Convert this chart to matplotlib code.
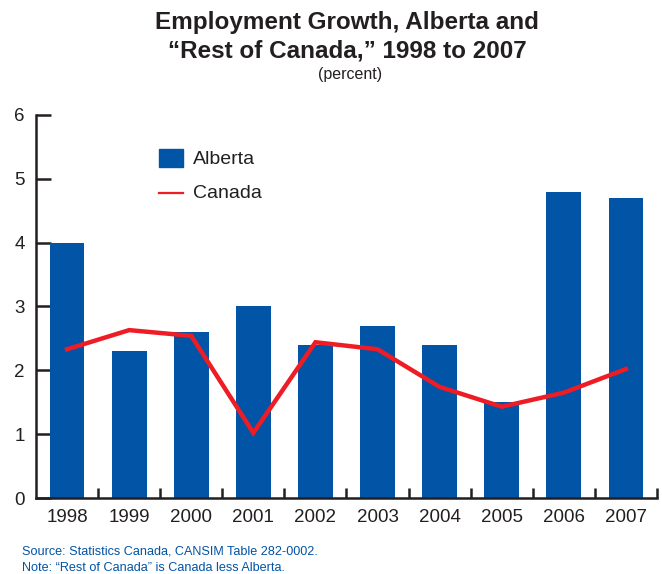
import numpy as np
import matplotlib
matplotlib.use("Agg")
import matplotlib.pyplot as plt
from matplotlib.patches import Rectangle
from matplotlib.lines import Line2D

years = ["1998", "1999", "2000", "2001", "2002", "2003", "2004", "2005", "2006", "2007"]
alberta = [4.0, 2.3, 2.6, 3.0, 2.4, 2.7, 2.4, 1.5, 4.8, 4.7]
canada = [2.33, 2.63, 2.54, 1.02, 2.44, 2.33, 1.74, 1.43, 1.65, 2.02]
y_ticks = [0, 1, 2, 3, 4, 5, 6]

BLUE = "#0254a6"
RED = "#ee1c25"
DARK = "#231f20"
FONT = ["Liberation Sans", "DejaVu Sans"]
plt.rcParams["font.family"] = FONT

fig = plt.figure(figsize=(6.62, 5.74), dpi=100)
ax = fig.add_axes([0.0544, 0.1324, 0.9380, 0.6673])

x = np.arange(len(years))
ax.bar(x, alberta, width=0.56, color=BLUE, zorder=2)
ax.plot(x, canada, color=RED, lw=3.2, zorder=3, solid_joinstyle="miter")

ax.set_xlim(-0.5, len(years) - 0.5)
ax.set_ylim(0, 6)

for s in ["top", "right"]:
    ax.spines[s].set_visible(False)
for s in ["left", "bottom"]:
    ax.spines[s].set_linewidth(1.8)
    ax.spines[s].set_color(DARK)

ax.set_yticks(y_ticks)
ax.tick_params(axis="y", direction="in", length=11, width=1.8, color=DARK,
               labelsize=13.5, labelcolor=DARK, pad=8)
ax.set_xticks(x + 0.5)
ax.set_xticklabels([])
ax.tick_params(axis="x", direction="in", length=7, width=1.8, color=DARK)
for i, yr in enumerate(years):
    ax.text(i, -0.18, yr, ha="center", va="top", fontsize=13.5, color=DARK)

# legend drawn by hand
ax.add_patch(Rectangle((159 / 662, 1 - 167 / 574), 24 / 662, 18 / 574,
                       transform=fig.transFigure, color=BLUE, clip_on=False))
fig.add_artist(Line2D([159 / 662, 183 / 662], [1 - 193 / 574, 1 - 193 / 574],
                      color=RED, lw=1.6))
fig.text(193 / 662, 1 - 159 / 574, "Alberta", fontsize=14, color=DARK, va="center")
fig.text(193 / 662, 1 - 194 / 574, "Canada", fontsize=14, color=DARK, va="center")

fig.text(0.524, 1 - 22 / 574, "Employment Growth, Alberta and", ha="center",
         va="center", fontsize=17.5, fontweight="bold", color=DARK)
fig.text(0.524, 1 - 51 / 574, "\u201cRest of Canada,\u201d 1998 to 2007", ha="center",
         va="center", fontsize=17.5, fontweight="bold", color=DARK)
fig.text(0.529, 1 - 75 / 574, "(percent)", ha="center", va="center",
         fontsize=11.5, color=DARK)

fig.text(22 / 662, 1 - 551 / 574, "Source: Statistics Canada, CANSIM Table 282-0002.",
         fontsize=9.1, color=BLUE, va="center")
fig.text(22 / 662, 1 - 568 / 574, "Note: \u201cRest of Canada\u201d is Canada less Alberta.",
         fontsize=9.1, color=BLUE, va="center")

fig.savefig("out.png", dpi=100)
